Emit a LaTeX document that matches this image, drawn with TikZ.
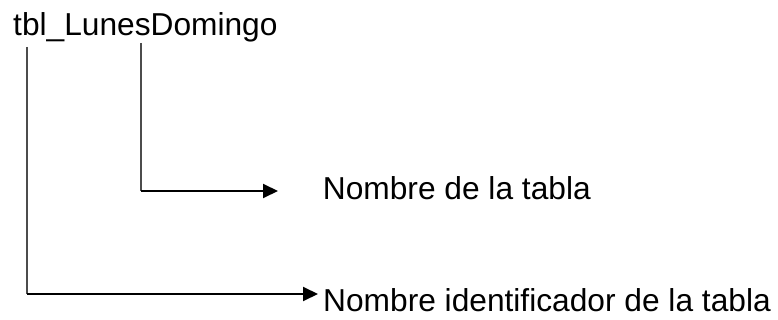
\documentclass[tikz,border=0pt]{standalone}
\usepackage{fontspec}
\setmainfont{Liberation Sans}
\usetikzlibrary{arrows.meta}
\begin{document}
\begin{tikzpicture}[x=1pt,y=-1pt,
  lbl/.style={inner sep=0pt,anchor=base west,font=\fontsize{31.7}{36}\selectfont},
  stem/.style={draw=black!70,line width=1.3pt},
  leader/.style={draw=black,line width=2pt,-{Triangle[length=15pt,width=14pt]}}]
\useasboundingbox (0,0) rectangle (778,320);
\node[lbl] (t) at (13,36) {tbl\_LunesDomingo};
\node[lbl] (n2) at (322.7,200) {Nombre de la tabla};
\node[lbl] (n1) at (323,311.5) {Nombre identificador de la tabla};
\coordinate (s1) at (27,47);
\coordinate (c1) at (27,294);
\coordinate (e1) at (318,294);
\coordinate (s2) at (141,43);
\coordinate (c2) at (141,191);
\coordinate (e2) at (278,191);
\draw[stem] (s1) -- (c1);
\draw[stem] (s2) -- (c2);
\draw[leader] (c1) -- (e1);
\draw[leader] (c2) -- (e2);
\end{tikzpicture}
\end{document}
